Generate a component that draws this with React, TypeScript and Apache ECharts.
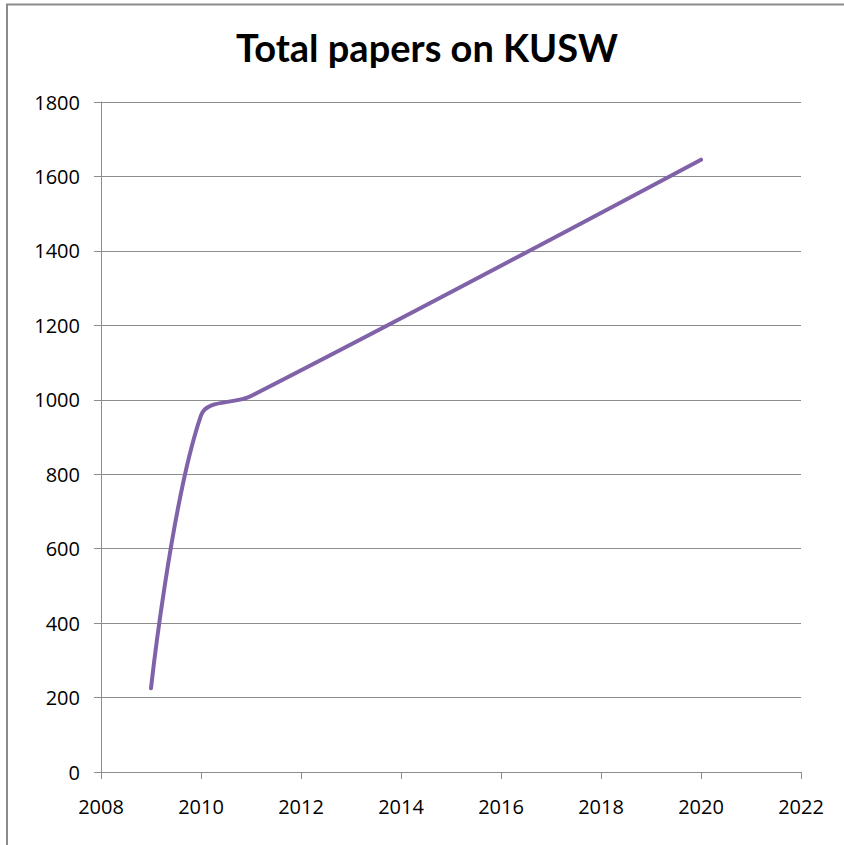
import React, { useEffect, useRef } from "react";
import * as echarts from "echarts";

const years = [2009, 2010, 2011, 2020];
const papers = [225, 958, 1010, 1645];
const titleText = "Total papers on KUSW";

export default function App() {
  const ref = useRef<HTMLDivElement>(null);
  useEffect(() => {
    if (!ref.current) return;
    const chart = echarts.init(ref.current, undefined, { renderer: "svg" });
    const labelFont = { fontFamily: "'Open Sans', sans-serif", fontSize: 20, color: "#000" };
    chart.setOption({
      animation: false,
      backgroundColor: "#fff",
      title: {
        text: titleText,
        left: 231,
        top: 23,
        textStyle: { fontFamily: "Lato", fontWeight: "bold", fontSize: 38, color: "#000" },
      },
      graphic: [
        {
          type: "rect",
          shape: { x: 7, y: 4.5, width: 900, height: 900 },
          style: { fill: "none", stroke: "#8a8a8a", lineWidth: 2 },
          silent: true,
        },
      ],
      grid: { left: 101, right: 43, top: 102, bottom: 73 },
      xAxis: {
        type: "value",
        min: 2008,
        max: 2022,
        interval: 2,
        axisLine: { show: true, lineStyle: { color: "#8c8c8c", width: 1 } },
        axisTick: { show: true, length: 7, lineStyle: { color: "#8c8c8c" } },
        axisLabel: { ...labelFont, margin: 24, formatter: (v: number) => String(v) },
        splitLine: { show: false },
      },
      yAxis: {
        type: "value",
        min: 0,
        max: 1800,
        interval: 200,
        axisLine: { show: true, lineStyle: { color: "#8c8c8c", width: 1 } },
        axisTick: { show: true, length: 7, lineStyle: { color: "#8c8c8c" } },
        axisLabel: { ...labelFont, margin: 21, formatter: (v: number) => String(v) },
        splitLine: { show: true, lineStyle: { color: "#8c8c8c", width: 1 } },
      },
      series: [
        {
          type: "line",
          data: years.map((y, i) => [y, papers[i]]),
          smooth: 0.35,
          showSymbol: false,
          symbol: "none",
          lineStyle: { color: "#7F62A8", width: 4, cap: "round" },
        },
      ],
    });
    return () => chart.dispose();
  }, []);
  return (
    <div
      ref={ref}
      style={{ position: "fixed", left: 0, top: 0, width: 844, height: 845 }}
    />
  );
}
